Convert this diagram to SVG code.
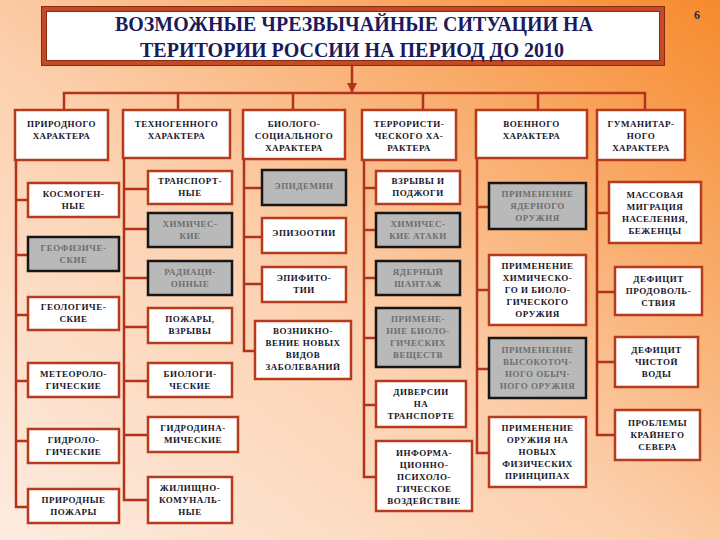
<svg xmlns="http://www.w3.org/2000/svg" width="720" height="540" viewBox="0 0 720 540">
<defs>
<linearGradient id="bg" x1="0" y1="1" x2="1" y2="0">
<stop offset="0" stop-color="#fdece0"/>
<stop offset="0.45" stop-color="#fcd0ae"/>
<stop offset="1" stop-color="#f68a2c"/>
</linearGradient>
<marker id="ah" viewBox="0 0 10 10" refX="9" refY="5" markerWidth="4" markerHeight="4" orient="auto">
<path d="M0,0 L10,5 L0,10 z" fill="#b2321a"/>
</marker>
<style>
.w{fill:#ffffff;stroke:#b63a1c;stroke-width:2.5}
.g{fill:#b9b9b9;stroke:#161616;stroke-width:2.5}
.t{font-family:"Liberation Serif","Times New Roman",serif;font-weight:bold;font-size:9px;letter-spacing:0.5px;text-anchor:middle;fill:#16162c}
.tg{font-family:"Liberation Serif","Times New Roman",serif;font-weight:bold;font-size:9px;letter-spacing:0.5px;text-anchor:middle;fill:#6e6e6e}
.c{stroke:#b2321a;stroke-width:2.5;fill:none}
.title{font-family:"Liberation Serif","Times New Roman",serif;font-weight:bold;font-size:22px;text-anchor:middle;fill:#1b1b5c}
</style>
</defs>
<rect x="0" y="0" width="720" height="540" fill="url(#bg)"/>
<text x="697" y="19" style="font-family:'Liberation Serif',serif;font-weight:bold;font-size:12px;fill:#2a2a3a" text-anchor="middle">6</text>

<g id="title">
<rect x="44" y="9" width="618" height="54" fill="#ffffff" stroke="#c24a26" stroke-width="5"/>
<rect x="41.5" y="6.5" width="623" height="59" fill="none" stroke="#8a2a12" stroke-width="1"/>
<rect x="46.5" y="11.5" width="613" height="49" fill="none" stroke="#8a2a12" stroke-width="1"/>
<text class="title" x="354" y="31" textLength="478" lengthAdjust="spacingAndGlyphs">ВОЗМОЖНЫЕ ЧРЕЗВЫЧАЙНЫЕ СИТУАЦИИ НА</text>
<text class="title" x="352" y="57" textLength="424" lengthAdjust="spacingAndGlyphs">ТЕРИТОРИИ РОССИИ НА ПЕРИОД ДО 2010</text>
</g>

<g id="connectors">
<line class="c" x1="352" y1="64" x2="352" y2="92" marker-end="url(#ah)"/>
<polyline class="c" points="64,110 64,93 645,93 645,110"/>
<line class="c" x1="178" y1="93" x2="178" y2="110"/>
<line class="c" x1="293" y1="93" x2="293" y2="110"/>
<line class="c" x1="423" y1="93" x2="423" y2="110"/>
<line class="c" x1="538" y1="93" x2="538" y2="110"/>
<polyline class="c" points="16,160 16,507 28,507"/>
<line class="c" x1="16" y1="200" x2="28" y2="200"/>
<line class="c" x1="16" y1="255" x2="28" y2="255"/>
<line class="c" x1="16" y1="315" x2="28" y2="315"/>
<line class="c" x1="16" y1="381" x2="28" y2="381"/>
<line class="c" x1="16" y1="441" x2="28" y2="441"/>
<polyline class="c" points="124,158 124,500 148,500"/>
<line class="c" x1="124" y1="189" x2="148" y2="189"/>
<line class="c" x1="124" y1="229" x2="148" y2="229"/>
<line class="c" x1="124" y1="278" x2="148" y2="278"/>
<line class="c" x1="124" y1="327" x2="148" y2="327"/>
<line class="c" x1="124" y1="381" x2="148" y2="381"/>
<line class="c" x1="124" y1="435" x2="148" y2="435"/>
<polyline class="c" points="244,159 244,351 255,351"/>
<line class="c" x1="244" y1="188" x2="262" y2="188"/>
<line class="c" x1="244" y1="237" x2="262" y2="237"/>
<line class="c" x1="244" y1="284" x2="262" y2="284"/>
<polyline class="c" points="364,160 364,477 376,477"/>
<line class="c" x1="364" y1="188" x2="376" y2="188"/>
<line class="c" x1="364" y1="230" x2="376" y2="230"/>
<line class="c" x1="364" y1="278" x2="376" y2="278"/>
<line class="c" x1="364" y1="338" x2="376" y2="338"/>
<line class="c" x1="364" y1="405" x2="376" y2="405"/>
<polyline class="c" points="477,158 477,453 489,453"/>
<line class="c" x1="477" y1="207" x2="489" y2="207"/>
<line class="c" x1="477" y1="290" x2="489" y2="290"/>
<line class="c" x1="477" y1="369" x2="489" y2="369"/>
<polyline class="c" points="597,160 597,435 615,435"/>
<line class="c" x1="597" y1="213" x2="609" y2="213"/>
<line class="c" x1="597" y1="292" x2="615" y2="292"/>
<line class="c" x1="597" y1="362" x2="615" y2="362"/>
</g>

<g id="n-prirod"><rect class="w" x="15" y="110" width="93" height="50"/><text class="t" x="61.5" y="127">ПРИРОДНОГО</text><text class="t" x="61.5" y="139">ХАРАКТЕРА</text></g>
<g id="n-tehno"><rect class="w" x="123" y="110" width="107" height="48"/><text class="t" x="176.5" y="127">ТЕХНОГЕННОГО</text><text class="t" x="176.5" y="139">ХАРАКТЕРА</text></g>
<g id="n-bio"><rect class="w" x="243" y="110" width="102" height="49"/><text class="t" x="294" y="127">БИОЛОГО-</text><text class="t" x="294" y="139">СОЦИАЛЬНОГО</text><text class="t" x="294" y="151">ХАРАКТЕРА</text></g>
<g id="n-terror"><rect class="w" x="362" y="110" width="94" height="50"/><text class="t" x="409" y="127">ТЕРРОРИСТИ-</text><text class="t" x="409" y="139">ЧЕСКОГО ХА-</text><text class="t" x="409" y="151">РАКТЕРА</text></g>
<g id="n-voen"><rect class="w" x="476" y="110" width="111" height="48"/><text class="t" x="531.5" y="127">ВОЕННОГО</text><text class="t" x="531.5" y="139">ХАРАКТЕРА</text></g>
<g id="n-guman"><rect class="w" x="597" y="110" width="88" height="50"/><text class="t" x="641" y="127">ГУМАНИТАР-</text><text class="t" x="641" y="139">НОГО</text><text class="t" x="641" y="151">ХАРАКТЕРА</text></g>

<g id="n-kosmo"><rect class="w" x="28" y="183" width="91" height="34"/><text class="t" x="73.5" y="197">КОСМОГЕН-</text><text class="t" x="73.5" y="209">НЫЕ</text></g>
<g id="n-geofiz"><rect class="g" x="28" y="237" width="91" height="34"/><text class="tg" x="73.5" y="251">ГЕОФИЗИЧЕ-</text><text class="tg" x="73.5" y="263">СКИЕ</text></g>
<g id="n-geolog"><rect class="w" x="28" y="297" width="91" height="33"/><text class="t" x="73.5" y="310">ГЕОЛОГИЧЕ-</text><text class="t" x="73.5" y="322">СКИЕ</text></g>
<g id="n-meteo"><rect class="w" x="28" y="363" width="91" height="34"/><text class="t" x="73.5" y="377">МЕТЕОРОЛО-</text><text class="t" x="73.5" y="389">ГИЧЕСКИЕ</text></g>
<g id="n-gidrolog"><rect class="w" x="28" y="429" width="91" height="34"/><text class="t" x="73.5" y="443">ГИДРОЛО-</text><text class="t" x="73.5" y="455">ГИЧЕСКИЕ</text></g>
<g id="n-pozhary"><rect class="w" x="28" y="489" width="91" height="34"/><text class="t" x="73.5" y="503">ПРИРОДНЫЕ</text><text class="t" x="73.5" y="515">ПОЖАРЫ</text></g>

<g id="n-transp"><rect class="w" x="148" y="171" width="84" height="33"/><text class="t" x="190" y="184">ТРАНСПОРТ-</text><text class="t" x="190" y="196">НЫЕ</text></g>
<g id="n-him"><rect class="g" x="148" y="213" width="84" height="34"/><text class="tg" x="190" y="227">ХИМИЧЕС-</text><text class="tg" x="190" y="239">КИЕ</text></g>
<g id="n-radiac"><rect class="g" x="148" y="261" width="84" height="34"/><text class="tg" x="190" y="275">РАДИАЦИ-</text><text class="tg" x="190" y="287">ОННЫЕ</text></g>
<g id="n-pozhvzr"><rect class="w" x="148" y="308" width="84" height="35"/><text class="t" x="190" y="322">ПОЖАРЫ,</text><text class="t" x="190" y="334">ВЗРЫВЫ</text></g>
<g id="n-biolog"><rect class="w" x="148" y="363" width="84" height="34"/><text class="t" x="190" y="377">БИОЛОГИ-</text><text class="t" x="190" y="389">ЧЕСКИЕ</text></g>
<g id="n-gidrodin"><rect class="w" x="148" y="417" width="90" height="35"/><text class="t" x="193" y="431">ГИДРОДИНА-</text><text class="t" x="193" y="443">МИЧЕСКИЕ</text></g>
<g id="n-zhil"><rect class="w" x="148" y="477" width="84" height="46"/><text class="t" x="190" y="491">ЖИЛИЩНО-</text><text class="t" x="190" y="503">КОМУНАЛЬ-</text><text class="t" x="190" y="515">НЫЕ</text></g>

<g id="n-epidem"><rect class="g" x="262" y="170" width="84" height="35"/><text class="tg" x="304" y="189">ЭПИДЕМИИ</text></g>
<g id="n-epizoot"><rect class="w" x="262" y="218" width="84" height="35"/><text class="t" x="304" y="236">ЭПИЗООТИИ</text></g>
<g id="n-epifit"><rect class="w" x="262" y="267" width="84" height="35"/><text class="t" x="304" y="281">ЭПИФИТО-</text><text class="t" x="304" y="293">ТИИ</text></g>
<g id="n-vozn"><rect class="w" x="255" y="321" width="96" height="58"/><text class="t" x="303" y="334">ВОЗНИКНО-</text><text class="t" x="303" y="346">ВЕНИЕ НОВЫХ</text><text class="t" x="303" y="358">ВИДОВ</text><text class="t" x="303" y="370">ЗАБОЛЕВАНИЙ</text></g>

<g id="n-vzr"><rect class="w" x="376" y="171" width="84" height="33"/><text class="t" x="418" y="184">ВЗРЫВЫ И</text><text class="t" x="418" y="196">ПОДЖОГИ</text></g>
<g id="n-himat"><rect class="g" x="376" y="213" width="84" height="34"/><text class="tg" x="418" y="227">ХИМИЧЕС-</text><text class="tg" x="418" y="239">КИЕ АТАКИ</text></g>
<g id="n-yader"><rect class="g" x="376" y="261" width="84" height="34"/><text class="tg" x="418" y="275">ЯДЕРНЫЙ</text><text class="tg" x="418" y="287">ШАНТАЖ</text></g>
<g id="n-primbio"><rect class="g" x="376" y="308" width="84" height="59"/><text class="tg" x="418" y="322">ПРИМЕНЕ-</text><text class="tg" x="418" y="334">НИЕ БИОЛО-</text><text class="tg" x="418" y="346">ГИЧЕСКИХ</text><text class="tg" x="418" y="358">ВЕЩЕСТВ</text></g>
<g id="n-divers"><rect class="w" x="376" y="381" width="90" height="46"/><text class="t" x="421" y="395">ДИВЕРСИИ</text><text class="t" x="421" y="407">НА</text><text class="t" x="421" y="419">ТРАНСПОРТЕ</text></g>
<g id="n-inform"><rect class="w" x="376" y="441" width="96" height="70"/><text class="t" x="424" y="456">ИНФОРМА-</text><text class="t" x="424" y="468">ЦИОННО-</text><text class="t" x="424" y="480">ПСИХОЛО-</text><text class="t" x="424" y="492">ГИЧЕСКОЕ</text><text class="t" x="424" y="504">ВОЗДЕЙСТВИЕ</text></g>

<g id="n-yadorzh"><rect class="g" x="489" y="183" width="97" height="46"/><text class="tg" x="537.5" y="197">ПРИМЕНЕНИЕ</text><text class="tg" x="537.5" y="209">ЯДЕРНОГО</text><text class="tg" x="537.5" y="221">ОРУЖИЯ</text></g>
<g id="n-himorzh"><rect class="w" x="489" y="255" width="97" height="70"/><text class="t" x="537.5" y="269">ПРИМЕНЕНИЕ</text><text class="t" x="537.5" y="281">ХИМИЧЕСКО-</text><text class="t" x="537.5" y="293">ГО И БИОЛО-</text><text class="t" x="537.5" y="305">ГИЧЕСКОГО</text><text class="t" x="537.5" y="317">ОРУЖИЯ</text></g>
<g id="n-vysok"><rect class="g" x="489" y="338" width="97" height="60"/><text class="tg" x="537.5" y="353">ПРИМЕНЕНИЕ</text><text class="tg" x="537.5" y="365">ВЫСОКОТОЧ-</text><text class="tg" x="537.5" y="377">НОГО ОБЫЧ-</text><text class="tg" x="537.5" y="389">НОГО ОРУЖИЯ</text></g>
<g id="n-fiz"><rect class="w" x="489" y="417" width="97" height="70"/><text class="t" x="537.5" y="431">ПРИМЕНЕНИЕ</text><text class="t" x="537.5" y="443">ОРУЖИЯ НА</text><text class="t" x="537.5" y="455">НОВЫХ</text><text class="t" x="537.5" y="467">ФИЗИЧЕСКИХ</text><text class="t" x="537.5" y="479">ПРИНЦИПАХ</text></g>

<g id="n-migr"><rect class="w" x="609" y="182" width="92" height="61"/><text class="t" x="655" y="198">МАССОВАЯ</text><text class="t" x="655" y="210">МИГРАЦИЯ</text><text class="t" x="655" y="222">НАСЕЛЕНИЯ,</text><text class="t" x="655" y="234">БЕЖЕНЦЫ</text></g>
<g id="n-prod"><rect class="w" x="615" y="267" width="87" height="48"/><text class="t" x="658.5" y="282">ДЕФИЦИТ</text><text class="t" x="658.5" y="294">ПРОДОВОЛЬ-</text><text class="t" x="658.5" y="306">СТВИЯ</text></g>
<g id="n-voda"><rect class="w" x="615" y="337" width="83" height="50"/><text class="t" x="656.5" y="353">ДЕФИЦИТ</text><text class="t" x="656.5" y="365">ЧИСТОЙ</text><text class="t" x="656.5" y="377">ВОДЫ</text></g>
<g id="n-sever"><rect class="w" x="615" y="410" width="85" height="50"/><text class="t" x="657.5" y="426">ПРОБЛЕМЫ</text><text class="t" x="657.5" y="438">КРАЙНЕГО</text><text class="t" x="657.5" y="450">СЕВЕРА</text></g>
</svg>
